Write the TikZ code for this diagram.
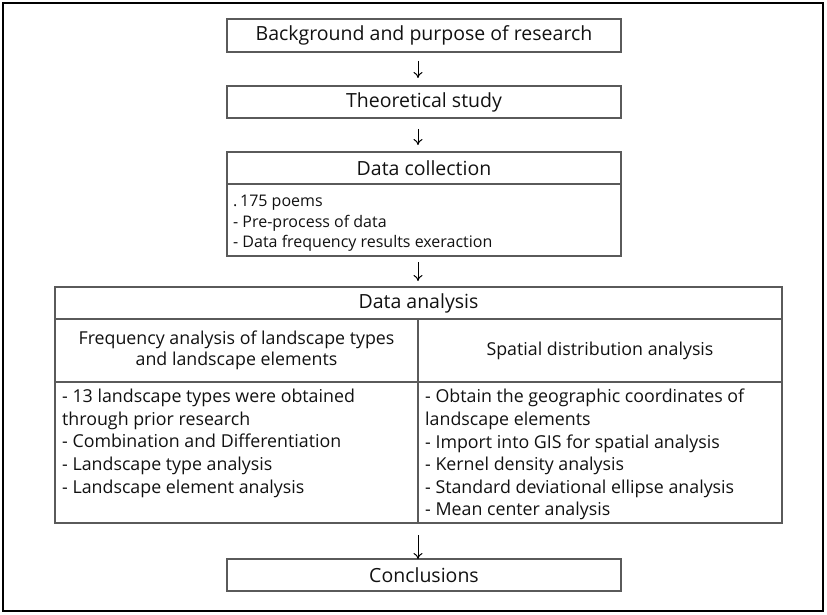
\documentclass[tikz,border=0pt]{standalone}
\usepackage{fontspec}
\setmainfont{Open Sans}
\usetikzlibrary{arrows.meta,calc}
\definecolor{boxline}{HTML}{5A5A5A}
\definecolor{txt}{HTML}{111111}
\begin{document}
\begin{tikzpicture}[x=1pt,y=-1pt,
  box/.style={draw=boxline,line width=1.2pt,inner sep=0pt,outer sep=0pt,rectangle},
  head/.style={text=txt,font=\fontsize{19.5}{23}\selectfont,inner sep=0pt},
  sub/.style={text=txt,font=\fontsize{17.8}{21.5}\selectfont,inner sep=0pt,align=center},
  bodyA/.style={text=txt,font=\fontsize{16}{20.5}\selectfont,inner sep=0pt,align=left,anchor=north west},
  bodyB/.style={text=txt,font=\fontsize{17.8}{22.6}\selectfont,inner sep=0pt,align=left,anchor=north west},
  arr/.style={-{To[length=6pt,width=9pt]},line width=1pt,black}]
\useasboundingbox (0,0) rectangle (827,615);
\draw[line width=1.8pt,black] (3,3) rectangle (823,611);

% boxes
\node[box,minimum width=394,minimum height=33] (b1) at (424,35.5) {};
\node[head] (t1) at (b1.center) {Background and purpose of research};
\node[box,minimum width=394,minimum height=32] (b2) at (424,102) {};
\node[head] (t2) at (b2.center) {Theoretical study};

\node[box,minimum width=394,minimum height=32] (b3h) at (424,168) {};
\node[head] (t3) at (b3h.center) {Data collection};
\node[box,minimum width=394,minimum height=72] (b3b) at (424,220) {};
\node[bodyA] (t3b) at ($(b3b.north west)+(6,11)$) {.\,175 poems\\- Pre-process of data\\- Data frequency results exeraction};

\node[box,minimum width=727,minimum height=32] (b4h) at (418.5,303) {};
\node[head] (t4) at (b4h.center) {Data analysis};
\node[box,minimum width=363,minimum height=63] (b4l) at (236.5,350.5) {};
\node[sub] (t4l) at (b4l.center) {Frequency analysis of landscape types\\and landscape elements};
\node[box,minimum width=364,minimum height=63] (b4r) at (600,350.5) {};
\node[sub] (t4r) at (b4r.center) {Spatial distribution analysis};
\node[box,minimum width=363,minimum height=141] (b4lb) at (236.5,452.5) {};
\node[bodyB] (t4lb) at ($(b4lb.north west)+(7,7)$) {- 13 landscape types were obtained\\through prior research\\- Combination and Differentiation\\- Landscape type analysis\\- Landscape element analysis};
\node[box,minimum width=364,minimum height=141] (b4rb) at (600,452.5) {};
\node[bodyB] (t4rb) at ($(b4rb.north west)+(7,7)$) {- Obtain the geographic coordinates of\\landscape elements\\- Import into GIS for spatial analysis\\- Kernel density analysis\\- Standard deviational ellipse analysis\\- Mean center analysis};

\node[box,minimum width=394,minimum height=32] (b5) at (424,575) {};
\node[head] (t5) at (b5.center) {Conclusions};

% arrows
\draw[arr] ($(b1.south)+(-6,9)$) -- ($(b2.north)+(-6,-8)$);
\draw[arr] ($(b2.south)+(-6,11)$) -- ($(b3h.north)+(-6,-7)$);
\draw[arr] ($(b3b.south)+(-6,6)$) -- ($(b4h.north)+(-0.5,-6)$);
\draw[arr] ($(b4lb.south east)+(0,12)$) -- ($(b5.north)+(-6,0)$);
\end{tikzpicture}
\end{document}
